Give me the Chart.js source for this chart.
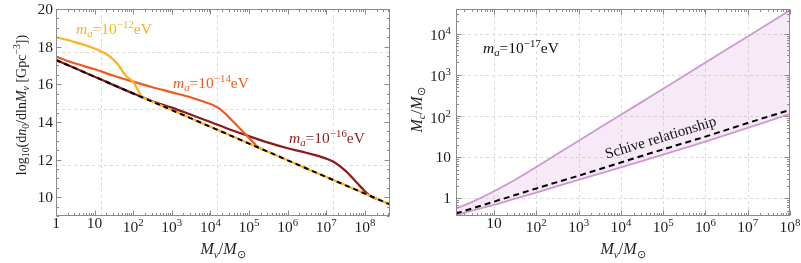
<!DOCTYPE html>
<html>
<head>
<meta charset="utf-8">
<script src="https://cdn.jsdelivr.net/npm/chart.js@4.4.0/dist/chart.umd.min.js"></script>
<style>
  html, body { margin: 0; padding: 0; background: #fff; }
  #wrap { position: relative; width: 801px; height: 263px; }
  #left { position: absolute; left: 0; top: 0; }
  #right { position: absolute; left: 400px; top: 0; }
</style>
</head>
<body>
<div id="wrap">
  <canvas id="left" width="400" height="263"></canvas>
  <canvas id="right" width="401" height="263"></canvas>
</div>
<script>
'use strict';

// ---- left panel: log10(dn0/dlnMv) vs Mv ----
const mvBase = [1, 10, 100, 1e3, 1e4, 1e5, 1e6, 1e7, 1e8, 4.47e8];
const dnBase = [17.29, 16.40, 15.51, 14.63, 13.74, 12.85, 11.96, 11.07, 10.19, 9.61];

const mv12 = [1, 3.16, 10, 15.8, 25.1, 39.8, 63.1, 100, 126, 158, 200, 316, 1e3, 1e4, 1e5, 1e6, 1e7, 1e8, 4.47e8];
const dn12 = [18.50, 18.24, 17.90, 17.72, 17.47, 17.06, 16.48, 16.12, 15.78, 15.42, 15.25, 15.07, 14.63, 13.74, 12.85, 11.96, 11.07, 10.19, 9.61];

const mv14 = [1, 3.16, 10, 31.6, 100, 316, 1e3, 3160, 1e4, 1.33e4, 1.78e4, 2.37e4, 3.16e4, 5.62e4, 1e5, 1.41e5, 1.78e5, 2.51e5];
const dn14 = [17.47, 17.10, 16.80, 16.45, 16.14, 15.84, 15.57, 15.30, 14.95, 14.84, 14.68, 14.46, 14.20, 13.68, 13.15, 12.82, 12.63, 12.49];

const mv16 = [1, 10, 100, 316, 1e3, 3160, 1e4, 3.16e4, 1e5, 3.16e5, 1e6, 3.16e6, 1e7, 1.58e7, 3.16e7, 6.31e7, 1e8, 1.35e8, 2e8];
const dn16 = [17.29, 16.40, 15.51, 15.10, 14.76, 14.38, 14.00, 13.60, 13.24, 12.90, 12.60, 12.35, 12.05, 11.87, 11.40, 10.75, 10.32, 10.07, 9.92];

const leftXTicks = [0, 1, 2, 3, 4, 5, 6, 7, 8];   // powers of ten
const leftYTicks = [10, 12, 14, 16, 18, 20];
const leftXGrid = [15, 1.5e4, 1.5e7];
const leftYGrid = [11.7, 14.7, 17.7];

// ---- right panel: Mc vs Mv at ma = 1e-17 eV ----
const mvCore   = [1.26, 3.16, 10, 31.6, 100, 1e3, 1e4, 1e5, 1e6, 1e7, 1e8];
const mcUpper  = [0.56, 0.83, 1.48, 2.82, 5.75, 25.1, 107, 457, 2000, 8510, 37150];
const mcLower  = [0.39, 0.51, 0.69, 0.98, 1.38, 2.82, 5.62, 11.5, 24.0, 51.3, 112];
const mcSchive = [0.427, 0.575, 0.83, 1.20, 1.74, 3.55, 7.41, 15.5, 31.6, 67.6, 141];

const rightXTicks = [1, 2, 3, 4, 5, 6, 7, 8];
const rightYTicks = [0, 1, 2, 3, 4];

const FONT = '"Liberation Serif", "Times New Roman", serif';
const YELLOW = '#fdb022', ORANGE = '#ef5a1e', DARKRED = '#8c1a1d', PINK = '#cc99d0';

function fontOf(size, italic) { return (italic ? 'italic ' : '') + size + 'px ' + FONT; }

// parts: [text, kind]  kind: r roman, i italic, sb sub, sbi italic sub, sp sup
function layoutRich(ctx, parts, size) {
  let w = 0;
  const segs = parts.map(([t, k]) => {
    const small = k === 'sb' || k === 'sbi' || k === 'sp';
    const s = small ? size * 0.7 : size;
    const it = k === 'i' || k === 'sbi';
    const dy = k === 'sp' ? -size * 0.38 : (small ? size * 0.22 : 0);
    const font = fontOf(s, it);
    ctx.font = font;
    const seg = { t, font, x: w, dy };
    w += ctx.measureText(t).width;
    return seg;
  });
  return { segs, width: w };
}

function drawRich(ctx, parts, x, y, size, color, align) {
  const L = layoutRich(ctx, parts, size);
  let x0 = x;
  if (align === 'center') x0 = x - L.width / 2;
  else if (align === 'right') x0 = x - L.width;
  ctx.fillStyle = color;
  ctx.textAlign = 'left';
  ctx.textBaseline = 'alphabetic';
  L.segs.forEach(s => { ctx.font = s.font; ctx.fillText(s.t, x0 + s.x, y + s.dy); });
}

function powLabel(n) {
  if (n === 0) return [['1', 'r']];
  if (n === 1) return [['10', 'r']];
  return [['10', 'r'], [String(n), 'sp']];
}

function logMinors(lo, hi) {
  const out = [];
  for (let e = lo; e <= hi; e++) for (let k = 2; k <= 9; k++) out.push(k * Math.pow(10, e));
  return out;
}

function makeFrame(cfg) {
  return {
    id: 'frame',
    beforeDatasetsDraw(chart) {
      const { ctx, chartArea: a, scales: { x: sx, y: sy } } = chart;
      ctx.save();
      ctx.strokeStyle = '#dadada';
      ctx.lineWidth = 1;
      ctx.setLineDash([3, 3]);
      ctx.beginPath();
      cfg.xGrid.forEach(v => { const p = Math.round(sx.getPixelForValue(v)) + 0.5; ctx.moveTo(p, a.top); ctx.lineTo(p, a.bottom); });
      cfg.yGrid.forEach(v => { const p = Math.round(sy.getPixelForValue(v)) + 0.5; ctx.moveTo(a.left, p); ctx.lineTo(a.right, p); });
      ctx.stroke();
      ctx.restore();
    },
    afterDatasetsDraw(chart) {
      const { ctx, chartArea: a, scales: { x: sx, y: sy } } = chart;
      const inX = v => v >= sx.min && v <= sx.max;
      const inY = v => v >= sy.min && v <= sy.max;
      const L = Math.round(a.left) + 0.5, R = Math.round(a.right) - 0.5;
      const T = Math.round(a.top) + 0.5, B = Math.round(a.bottom) - 0.5;
      ctx.save();
      ctx.strokeStyle = '#8a8a8a';
      ctx.lineWidth = 1;
      ctx.strokeRect(L, T, R - L, B - T);
      ctx.beginPath();
      const xt = (v, len) => { const p = Math.round(sx.getPixelForValue(v)) + 0.5; ctx.moveTo(p, B); ctx.lineTo(p, B - len); ctx.moveTo(p, T); ctx.lineTo(p, T + len); };
      const yt = (v, len) => { const p = Math.round(sy.getPixelForValue(v)) + 0.5; ctx.moveTo(L, p); ctx.lineTo(L + len, p); ctx.moveTo(R, p); ctx.lineTo(R - len, p); };
      cfg.xMinor.filter(inX).forEach(v => xt(v, 2.5));
      cfg.yMinor.filter(inY).forEach(v => yt(v, 2.5));
      cfg.xMajor.filter(t => inX(t[0])).forEach(t => xt(t[0], 5));
      cfg.yMajor.filter(t => inY(t[0])).forEach(t => yt(t[0], 5));
      ctx.stroke();

      const ink = '#1e1e1e';
      cfg.xMajor.filter(t => inX(t[0])).forEach(([v, parts]) => {
        const base = parts.length > 1 ? 232 : 228;
        drawRich(ctx, parts, sx.getPixelForValue(v), base, 15.5, ink, 'center');
      });
      cfg.yMajor.filter(t => inY(t[0])).forEach(([v, parts]) => {
        const base = sy.getPixelForValue(v) + (parts.length > 1 ? 6.5 : 5);
        drawRich(ctx, parts, cfg.yLabelRight, base, 15.5, ink, 'right');
      });

      drawRich(ctx, cfg.xTitle, (a.left + a.right) / 2, 254, 16, ink, 'center');
      ctx.save();
      ctx.translate(cfg.yTitlePos[0], cfg.yTitlePos[1]);
      ctx.rotate(-Math.PI / 2);
      drawRich(ctx, cfg.yTitle, 0, 0, cfg.yTitleSize, ink, 'center');
      ctx.restore();

      cfg.notes.forEach(n => {
        ctx.save();
        ctx.translate(n.x, n.y);
        if (n.angle) ctx.rotate(n.angle * Math.PI / 180);
        drawRich(ctx, n.parts, 0, 0, n.size, n.color, n.align || 'left');
        ctx.restore();
      });
      ctx.restore();
    }
  };
}

const pts = (xs, ys) => xs.map((x, i) => ({ x, y: ys[i] }));
const maLabel = p => [['m', 'i'], ['a', 'sbi'], ['=10', 'r'], ['\u2212' + p, 'sp'], ['eV', 'r']];
const mvTitle = [['M', 'i'], ['v', 'sbi'], ['/', 'r'], ['M', 'i'], ['\u2299', 'sb']];

function makeChart(id, datasets, xRange, yScale, padRight, frame) {
  return new Chart(document.getElementById(id), {
    type: 'line',
    data: { datasets },
    options: {
      responsive: false,
      animation: false,
      devicePixelRatio: 1,
      layout: { padding: { left: 56, right: padRight, top: 9, bottom: 47 } },
      scales: {
        x: { type: 'logarithmic', min: xRange[0], max: xRange[1], display: false },
        y: Object.assign({ display: false }, yScale)
      },
      plugins: { legend: { display: false }, tooltip: { enabled: false } },
      elements: {
        point: { radius: 0 },
        line: { borderWidth: 2.2, cubicInterpolationMode: 'monotone' }
      }
    },
    plugins: [frame]
  });
}

const leftYMinor = [];
for (let v = 9; v <= 20; v += 0.5) if (v % 2 !== 0) leftYMinor.push(v);

makeChart('left', [
  { data: pts(mvBase, dnBase), borderColor: '#000', borderDash: [5, 4], borderWidth: 2 },
  { data: pts(mv12, dn12), borderColor: YELLOW },
  { data: pts(mv14, dn14), borderColor: ORANGE },
  { data: pts(mv16, dn16), borderColor: DARKRED }
], [1, 4.47e8], { type: 'linear', min: 9, max: 20 }, 10, makeFrame({
  xMajor: leftXTicks.map(n => [Math.pow(10, n), powLabel(n)]),
  xMinor: logMinors(0, 8),
  yMajor: leftYTicks.map(v => [v, [[String(v), 'r']]]),
  yMinor: leftYMinor,
  xGrid: leftXGrid,
  yGrid: leftYGrid,
  yLabelRight: 53,
  xTitle: mvTitle,
  yTitle: [['log', 'r'], ['10', 'sb'], ['(d', 'r'], ['n', 'i'], ['0', 'sb'], ['/d', 'r'], ['ln', 'r'],
           ['M', 'i'], ['v', 'sbi'], [' [Gpc', 'r'], ['\u22123', 'sp'], ['])', 'r']],
  yTitleSize: 14,
  yTitlePos: [25.5, 105],
  notes: [
    { x: 76, y: 34, size: 15.5, color: YELLOW, parts: maLabel('12') },
    { x: 173, y: 88, size: 15.5, color: ORANGE, parts: maLabel('14') },
    { x: 289, y: 142.5, size: 15.5, color: DARKRED, parts: maLabel('16') }
  ]
}));

makeChart('right', [
  { data: pts(mvCore, mcSchive), borderColor: '#000', borderDash: [6, 4], borderWidth: 2 },
  { data: pts(mvCore, mcLower), borderColor: PINK, borderWidth: 1.8 },
  { data: pts(mvCore, mcUpper), borderColor: PINK, borderWidth: 1.8, fill: '-1', backgroundColor: 'rgba(213,160,213,0.22)' }
], [1.26, 1e8], { type: 'logarithmic', min: 0.372, max: 39800 }, 11, makeFrame({
  xMajor: rightXTicks.map(n => [Math.pow(10, n), powLabel(n)]),
  xMinor: logMinors(0, 7),
  yMajor: rightYTicks.map(n => [Math.pow(10, n), powLabel(n)]),
  yMinor: logMinors(-1, 4),
  xGrid: [10, 100, 1e3, 1e4, 1e5, 1e6, 1e7],
  yGrid: [1, 10, 100, 1e3, 1e4],
  yLabelRight: 51,
  xTitle: mvTitle,
  yTitle: [['M', 'i'], ['c', 'sbi'], ['/', 'r'], ['M', 'i'], ['\u2299', 'sb']],
  yTitleSize: 16,
  yTitlePos: [21.5, 110],
  notes: [
    { x: 83, y: 52.5, size: 15.5, color: '#111', parts: maLabel('17') },
    { x: 262, y: 142, size: 15, color: '#111', angle: -17, align: 'center', parts: [['Schive relationship', 'r']] }
  ]
}));
</script>
</body>
</html>
